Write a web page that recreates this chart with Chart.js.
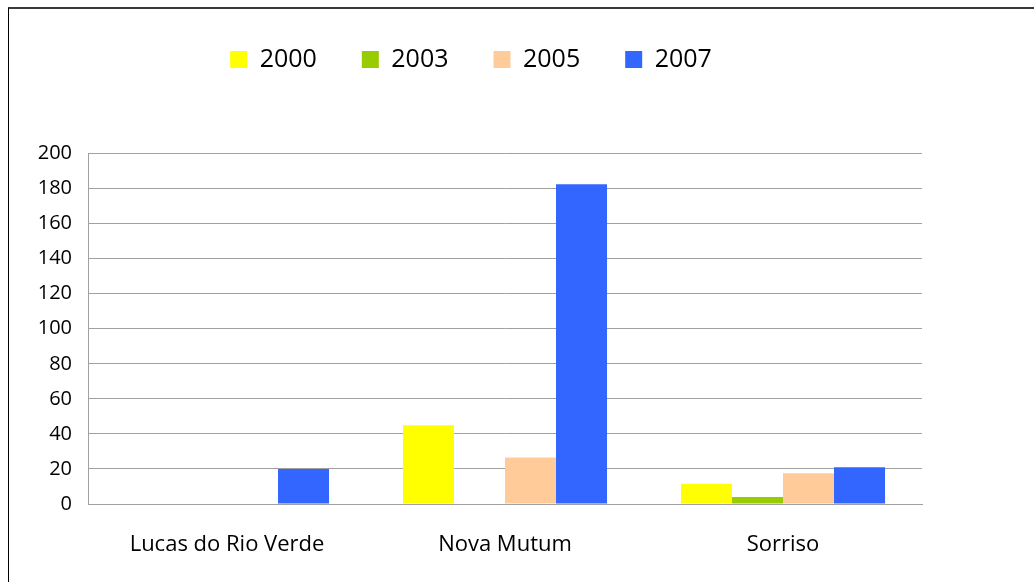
<!DOCTYPE html>
<html>
<head>
<meta charset="utf-8">
<script src="https://cdn.jsdelivr.net/npm/chart.js@4"></script>
<style>
    body { margin: 0; background: #fff; overflow: hidden; }
    .frame {
        position: absolute; left: 8px; top: 7px; width: 1040px; height: 590px;
        border-left: 1px solid #000; border-top: 2px solid #3a3a3a;
    }
    .wrap { position: absolute; left: 9px; top: 0; width: 1025px; height: 582px; }
</style>
</head>
<body>
<div class="frame"></div>
<div class="wrap"><canvas id="chart"></canvas></div>
<script>
const cities = ["Lucas do Rio Verde", "Nova Mutum", "Sorriso"];
const years = ["2000", "2003", "2005", "2007"];
const v2000 = [0, 45, 11.5];
const v2003 = [0, 0, 4];
const v2005 = [0, 26.5, 17.5];
const v2007 = [20, 182.5, 21];
const colors = ["#FFFF00", "#99CC00", "#FFCC99", "#3366FF"];
const yTicks = [0, 20, 40, 60, 80, 100, 120, 140, 160, 180, 200];

// push the plot down below the legend
const legendGap = {
    id: "legendGap",
    beforeInit(chart) {
        const fit = chart.legend.fit;
        chart.legend.fit = function () {
            fit.bind(this)();
            this.height += 71.5;
        };
    }
};

const series = [v2000, v2003, v2005, v2007];

new Chart(document.getElementById("chart").getContext("2d"), {
    type: "bar",
    data: {
        labels: cities,
        datasets: years.map((y, i) => ({
            label: y,
            data: series[i],
            backgroundColor: colors[i],
            borderWidth: 0,
            categoryPercentage: 0.734,
            barPercentage: 1
        }))
    },
    options: {
        responsive: true,
        maintainAspectRatio: false,
        animation: false,
        layout: { padding: { left: 11, right: 112, top: 2, bottom: 23 } },
        plugins: {
            tooltip: { enabled: false },
            legend: {
                position: "top",
                labels: {
                    boxWidth: 17,
                    boxHeight: 17,
                    padding: 45,
                    color: "#000",
                    font: { family: "Open Sans", size: 25 }
                }
            }
        },
        scales: {
            x: {
                afterFit(scale) { scale.height = 55; },
                grid: { display: false, drawTicks: false },
                border: { color: "#a0a0a0" },
                ticks: {
                    color: "#000",
                    padding: 28,
                    maxRotation: 0,
                    font: { family: "Open Sans", size: 22 }
                }
            },
            y: {
                min: 0,
                max: 200,
                afterFit(scale) { scale.width = 68; },
                afterBuildTicks(scale) { scale.ticks = yTicks.map(v => ({ value: v })); },
                grid: { color: "#a0a0a0", drawTicks: false },
                border: { color: "#a0a0a0" },
                ticks: {
                    color: "#000",
                    padding: 16,
                    font: { family: "Open Sans", size: 20 }
                }
            }
        }
    },
    plugins: [legendGap]
});
</script>
</body>
</html>
